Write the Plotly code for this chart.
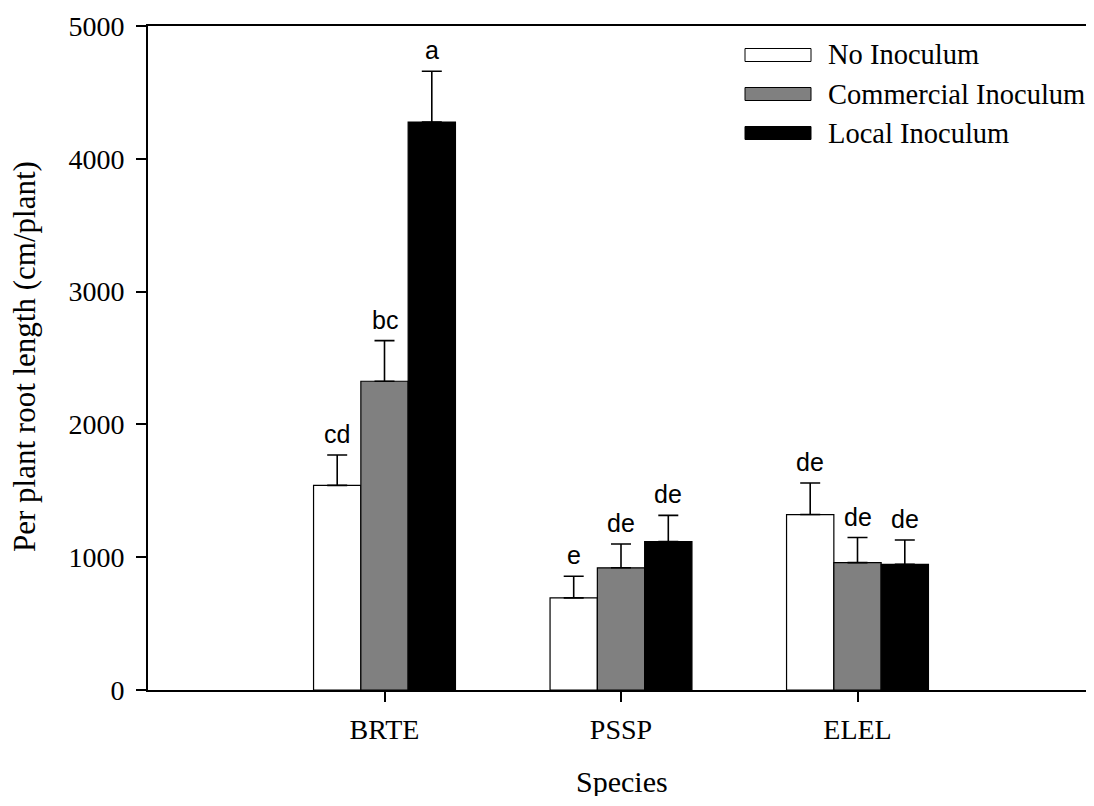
import plotly.graph_objects as go

species = ["BRTE", "PSSP", "ELEL"]
treatments = ["No Inoculum", "Commercial Inoculum", "Local Inoculum"]
no_inoc = [1541, 694, 1321]
no_inoc_err = [229, 163, 238]
commercial = [2325, 920, 959]
commercial_err = [306, 179, 189]
local = [4277, 1117, 946]
local_err = [382, 198, 184]
no_inoc_lbl = ["cd", "e", "de"]
commercial_lbl = ["bc", "de", "de"]
local_lbl = ["a", "de", "de"]
y_ticks = [0, 1000, 2000, 3000, 4000, 5000]

series = [
    (treatments[0], no_inoc, no_inoc_err, no_inoc_lbl, "#ffffff"),
    (treatments[1], commercial, commercial_err, commercial_lbl, "#808080"),
    (treatments[2], local, local_err, local_lbl, "#000000"),
]

# the page has an 8px body margin; size the figure so it fits without overflow
OFF = 8
W, H = 1094 - 2 * OFF, 806 - 2 * OFF
PL, PT, PB, PR = 148, 26, 690, OFF + W  # plot area in page pixels
ML, MT = PL - OFF, PT - OFF
MR = (OFF + W) - PR
MB = (OFF + H) - PB
PW, PH = PR - PL, PB - PT
UNIT = 236.5  # pixels per category step


def px_x(p):
    return (p - PL) / PW


def px_y(p):
    return (PB - p) / PH


SERIF = "Liberation Serif, Times New Roman, serif"
SANS = "Liberation Sans, Arial, sans-serif"

xpos = list(range(len(species)))
fig = go.Figure()
annotations = []
offsets = [-0.2, 0.0, 0.2]
for (name, vals, errs, lbls, col), off in zip(series, offsets):
    fig.add_trace(go.Bar(
        x=xpos, y=vals, name=name,
        marker=dict(color=col, line=dict(color="black", width=1.2)),
        error_y=dict(type="data", array=errs, arrayminus=[0] * len(errs),
                     symmetric=False, color="black", thickness=1.6, width=10),
        showlegend=False,
    ))
    for xi, v, e, t in zip(xpos, vals, errs, lbls):
        annotations.append(dict(
            x=xi + off, y=v + e, xref="x", yref="y", text=t, showarrow=False,
            xanchor="center", yanchor="bottom", yshift=5,
            font=dict(family=SANS, size=25, color="black"),
        ))

# legend drawn as swatches + labels
shapes = []
row_centers = [55, 94, 133]
for (name, vals, errs, lbls, col), c in zip(series, row_centers):
    shapes.append(dict(type="rect", xref="paper", yref="paper",
                       x0=px_x(745), x1=px_x(811), y0=px_y(c + 6.5), y1=px_y(c - 6.5),
                       line=dict(color="black", width=1), fillcolor=col))
    annotations.append(dict(x=px_x(826), y=px_y(c), xref="paper", yref="paper",
                            text=name, showarrow=False, xanchor="left", yanchor="middle",
                            font=dict(family=SERIF, size=28.5, color="black")))

# axis titles
annotations.append(dict(x=px_x(24), y=px_y(357), xref="paper", yref="paper",
                        text="Per plant root length (cm/plant)", textangle=-90,
                        showarrow=False, xanchor="center", yanchor="middle",
                        font=dict(family=SERIF, size=31, color="black")))
annotations.append(dict(x=px_x(622), y=px_y(781), xref="paper", yref="paper",
                        text="Species", showarrow=False, xanchor="center", yanchor="middle",
                        height=30, valign="middle",
                        font=dict(family=SERIF, size=30, color="black")))

fig.update_layout(
    width=W, height=H,
    margin=dict(l=ML, r=MR, t=MT, b=MB, pad=0),
    plot_bgcolor="white", paper_bgcolor="white",
    barmode="group", bargap=0.4, bargroupgap=0,
    annotations=annotations, shapes=shapes,
    font=dict(family=SERIF, size=28, color="black"),
)
fig.update_xaxes(
    range=[-1, -1 + PW / UNIT], tickvals=xpos, ticktext=species,
    showline=True, linecolor="black", linewidth=2, mirror=True,
    ticks="outside", ticklen=10, tickwidth=2, tickcolor="black",
    showgrid=False, zeroline=False, ticklabelstandoff=3,
    tickfont=dict(family=SERIF, size=28, color="black"),
)
fig.update_yaxes(
    range=[0, 5000], tickvals=y_ticks,
    showline=True, linecolor="black", linewidth=2,
    ticks="outside", ticklen=10, tickwidth=2, tickcolor="black",
    showgrid=False, zeroline=False, ticklabelstandoff=6,
    tickfont=dict(family=SERIF, size=28, color="black"),
)

fig.write_html("out.html")
